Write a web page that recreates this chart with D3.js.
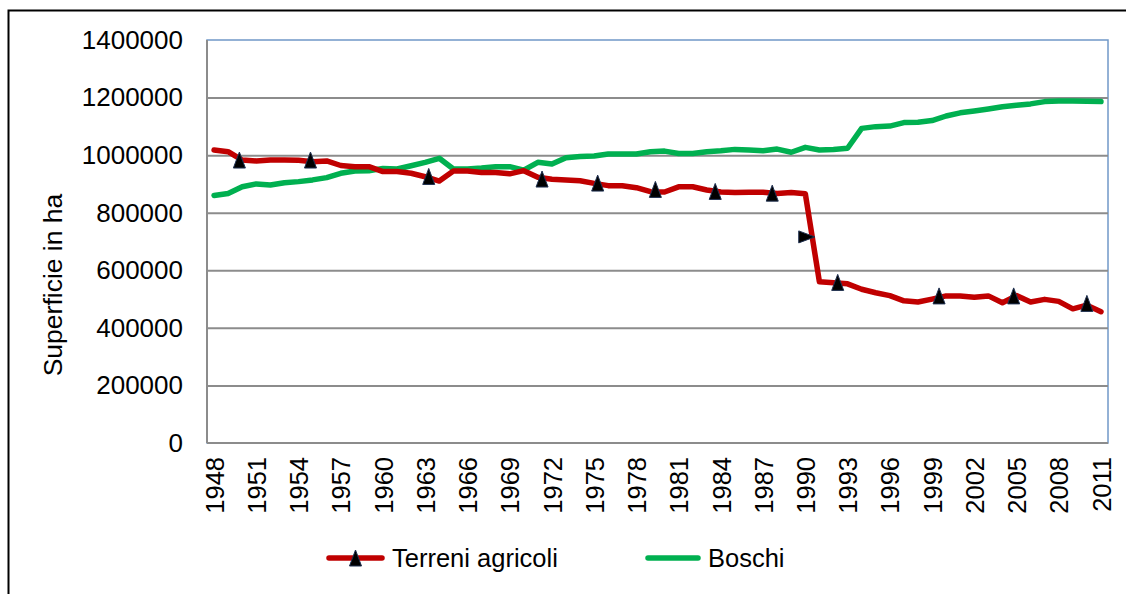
<!DOCTYPE html>
<html>
<head>
<meta charset="utf-8">
<script src="https://cdn.jsdelivr.net/npm/d3@7"></script>
<style>
  body { margin: 0; background: #fff; }
  svg { font-family: "Liberation Sans", Arial, sans-serif; }
</style>
</head>
<body>
<svg id="chart"></svg>
<script>
// Data
const years = d3.range(1948, 2012);

const terreni = [
  1018000, 1012000, 983000, 980000, 983000, 983000, 982000, 977000, 980000, 964000,
  960000, 960000, 943000, 943000, 937000, 925000, 910000, 945000, 945000, 940000,
  940000, 935000, 946000, 923000, 916000, 914000, 911000, 902000, 894000, 894000,
  887000, 873000, 872000, 890000, 890000, 879000, 872000, 870000, 871000, 871000,
  867000, 870000, 866000, 560000, 557000, 553000, 534000, 522000, 512000, 494000,
  490000, 500000, 511000, 511000, 506000, 511000, 487000, 512000, 490000, 499000,
  492000, 466000, 479000, 456000
];

const boschi = [
  860000, 867000, 890000, 900000, 896000, 904000, 908000, 914000, 922000, 937000,
  945000, 946000, 954000, 952000, 963000, 975000, 989000, 952000, 952000, 955000,
  960000, 960000, 948000, 975000, 969000, 991000, 995000, 997000, 1004000, 1004000,
  1004000, 1012000, 1014000, 1006000, 1006000, 1012000, 1015000, 1020000, 1018000, 1015000,
  1021000, 1010000, 1027000, 1018000, 1020000, 1024000, 1093000, 1099000, 1101000, 1113000,
  1114000, 1120000, 1136000, 1147000, 1153000, 1160000, 1168000, 1173000, 1178000, 1186000,
  1188000, 1188000, 1187000, 1186000
];

// triangle markers on the red line (fractional year, value)
const markerYears = [1949.8, 1954.85, 1963.25, 1971.3, 1975.25, 1979.35, 1983.6, 1987.65, 1990.1, 1992.3, 1999.5, 2004.8, 2010];
const markerValues = [983000, 983000, 926000, 917000, 903000, 881000, 874000, 868000, 716000, 558000, 511000, 511000, 485000];

const yTicks = d3.range(0, 1400001, 200000);
const xTickYears = years.filter((y) => (y - 1948) % 3 === 0);

const seriesNames = ["Terreni agricoli", "Boschi"];
const yTitle = "Superficie in ha";

// Dimensions
const width = 1126;
const height = 594;
const plot = { left: 207, right: 1108, top: 40, bottom: 443 };

const svg = d3.select("#chart").attr("width", width).attr("height", height);

// outer frame (cut at right and bottom)
svg.append("rect")
  .attr("x", 8.5).attr("y", 10.5)
  .attr("width", width + 20).attr("height", height + 20)
  .attr("fill", "none").attr("stroke", "#000").attr("stroke-width", 2);

// Scales
const x = d3.scaleLinear()
  .domain([years[0] - 0.5, years[years.length - 1] + 0.5])
  .range([plot.left, plot.right]);

const y = d3.scaleLinear()
  .domain([0, 1400000])
  .range([plot.bottom, plot.top]);

// plot area border
svg.append("rect")
  .attr("x", plot.left).attr("y", plot.top)
  .attr("width", plot.right - plot.left).attr("height", plot.bottom - plot.top)
  .attr("fill", "none").attr("stroke", "#7098c8").attr("stroke-width", 1.5);

// gridlines
svg.append("g")
  .attr("class", "grid")
  .attr("transform", `translate(${plot.left},0)`)
  .call(d3.axisLeft(y).tickValues(yTicks.slice(1, -1)).tickSize(-(plot.right - plot.left)).tickFormat(""))
  .call((g) => g.select(".domain").remove())
  .call((g) => g.selectAll("line").attr("stroke", "#8c8c8c").attr("stroke-width", 2));

// Y axis
svg.append("g")
  .attr("transform", `translate(${plot.left},0)`)
  .call(d3.axisLeft(y).tickValues(yTicks).tickSize(0).tickPadding(24).tickFormat(d3.format("d")))
  .call((g) => g.select(".domain").remove())
  .call((g) => g.selectAll("text").attr("font-size", 26).attr("fill", "#000").attr("font-family", null));

svg.append("line")
  .attr("x1", plot.left).attr("x2", plot.left)
  .attr("y1", plot.top).attr("y2", plot.bottom)
  .attr("stroke", "#8c8c8c").attr("stroke-width", 2);

// X axis
const xAxis = svg.append("g")
  .attr("transform", `translate(0,${plot.bottom})`)
  .call(d3.axisBottom(x).tickValues(xTickYears).tickSize(0).tickFormat(d3.format("d")));
xAxis.select(".domain").remove();
xAxis.selectAll("text")
  .attr("font-size", 25.5).attr("fill", "#000").attr("font-family", null)
  .attr("transform", "rotate(-90)")
  .attr("text-anchor", "end")
  .attr("x", -14).attr("y", 0).attr("dy", "0.36em");

svg.append("line")
  .attr("x1", plot.left).attr("x2", plot.right)
  .attr("y1", plot.bottom).attr("y2", plot.bottom)
  .attr("stroke", "#8c8c8c").attr("stroke-width", 2);

// Y title
svg.append("text")
  .attr("transform", "translate(52,285) rotate(-90)")
  .attr("text-anchor", "middle")
  .attr("dy", "0.36em")
  .attr("font-size", 26.5)
  .text(yTitle);

// Lines
const line = d3.line()
  .x((d) => x(d[0]))
  .y((d) => y(d[1]));

svg.append("path")
  .datum(years.map((yr, i) => [yr, boschi[i]]))
  .attr("fill", "none").attr("stroke", "#00b050").attr("stroke-width", 5.5)
  .attr("stroke-linejoin", "round").attr("stroke-linecap", "round")
  .attr("d", line);

svg.append("path")
  .datum(years.map((yr, i) => [yr, terreni[i]]))
  .attr("fill", "none").attr("stroke", "#c00000").attr("stroke-width", 5.5)
  .attr("stroke-linejoin", "round").attr("stroke-linecap", "round")
  .attr("d", line);

// Markers: triangle 12 wide, 16 tall, centred on its box
const tri = "M0,-8L6,8L-6,8Z";
const sideways = new Set([8]);
svg.selectAll(".marker")
  .data(markerYears.map((yr, i) => [yr, markerValues[i], i]))
  .join("path")
  .attr("class", "marker")
  .attr("d", tri)
  .attr("transform", (d) =>
    `translate(${x(d[0])},${y(d[1])}) rotate(${sideways.has(d[2]) ? 90 : 0})`)
  .attr("fill", "#000").attr("stroke", "#1f3050").attr("stroke-width", 1);

// Legend
const legend = svg.append("g");
const legendItems = [
  { name: seriesNames[0], color: "#c00000", x1: 329, x2: 382, tx: 392, marker: true },
  { name: seriesNames[1], color: "#00b050", x1: 648, x2: 698, tx: 708, marker: false }
];
const ly = 558;
legendItems.forEach((d) => {
  legend.append("line")
    .attr("x1", d.x1).attr("x2", d.x2).attr("y1", ly).attr("y2", ly)
    .attr("stroke", d.color).attr("stroke-width", 5.5).attr("stroke-linecap", "round");
  if (d.marker) {
    legend.append("path")
      .attr("d", tri)
      .attr("transform", `translate(${(d.x1 + d.x2) / 2},${ly})`)
      .attr("fill", "#000").attr("stroke", "#1f3050").attr("stroke-width", 1);
  }
  legend.append("text")
    .attr("x", d.tx).attr("y", ly).attr("dy", "0.36em")
    .attr("font-size", 25.5)
    .text(d.name);
});
</script>
</body>
</html>
